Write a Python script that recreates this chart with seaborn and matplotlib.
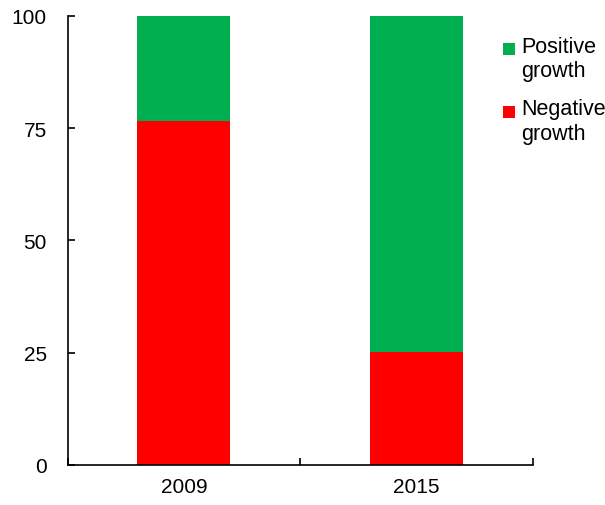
import matplotlib
matplotlib.use("Agg")
import matplotlib.pyplot as plt
import seaborn as sns
import pandas as pd
from matplotlib.patches import Patch, Rectangle
from matplotlib.legend_handler import HandlerBase

years = ["2009", "2015"]
negative = [76.5, 25.2]
positive = [23.5, 74.8]
series_labels = ["Positive\ngrowth", "Negative\ngrowth"]
colors = ["#00B050", "#FF0000"]
yticks = [0, 25, 50, 75, 100]

sns.set_theme(style="white")
plt.rcParams['font.family'] = ['Liberation Sans', 'DejaVu Sans']
plt.rcParams['text.color'] = 'black'
plt.rcParams['xtick.color'] = 'black'
plt.rcParams['ytick.color'] = 'black'

df = pd.DataFrame({"year": years, "neg": negative, "pos": positive})
df["total"] = df["neg"] + df["pos"]

fig = plt.figure(figsize=(6.05, 5.06), dpi=100)
ax = fig.add_axes([67.5/605, 1 - 466/506, (533 - 67.5)/605, (466 - 16.7)/506])

sns.barplot(data=df, x="year", y="total", color=colors[0], width=0.4,
            saturation=1, ax=ax, linewidth=0)
sns.barplot(data=df, x="year", y="neg", color=colors[1], width=0.4,
            saturation=1, ax=ax, linewidth=0)

ax.set_xlim(-0.5, 1.5)
ax.set_ylim(0, 100)
ax.set_yticks(yticks)
ax.set_yticklabels([str(t) for t in yticks])
ax.set_xlabel("")
ax.set_ylabel("")
ax.tick_params(axis="x", which="major", bottom=True, length=0, labelsize=15,
               pad=9, labelcolor="black")
ax.set_xticks([-0.5, 0.5, 1.5], minor=True)
ax.tick_params(axis="x", which="minor", bottom=True, direction="in", length=5,
               width=1.2, color="black")
ax.tick_params(axis="y", left=True, direction="in", length=5, width=1.2,
               color="black", pad=15, labelsize=15, labelcolor="black")

for s in ["top", "right"]:
    ax.spines[s].set_visible(False)
for s in ["left", "bottom"]:
    ax.spines[s].set_color("black")
    ax.spines[s].set_linewidth(1.2)


class TopSquare(HandlerBase):
    def create_artists(self, legend, orig_handle, xdescent, ydescent,
                       width, height, fontsize, trans):
        s = 0.56 * fontsize
        r = Rectangle((-xdescent, -ydescent + height - s), s, s,
                      facecolor=orig_handle.get_facecolor(),
                      edgecolor="none", transform=trans)
        return [r]


handles = [Patch(facecolor=c, edgecolor="none") for c in colors]
fig.legend(handles, series_labels, loc="upper left",
           bbox_to_anchor=(503/605, 1 - 37/506), frameon=False,
           fontsize=15.5, handlelength=0.56, handleheight=2.0,
           handletextpad=0.3, labelspacing=0.8, borderaxespad=0,
           borderpad=0, handler_map={Patch: TopSquare()})

fig.savefig("out.png", dpi=100)
